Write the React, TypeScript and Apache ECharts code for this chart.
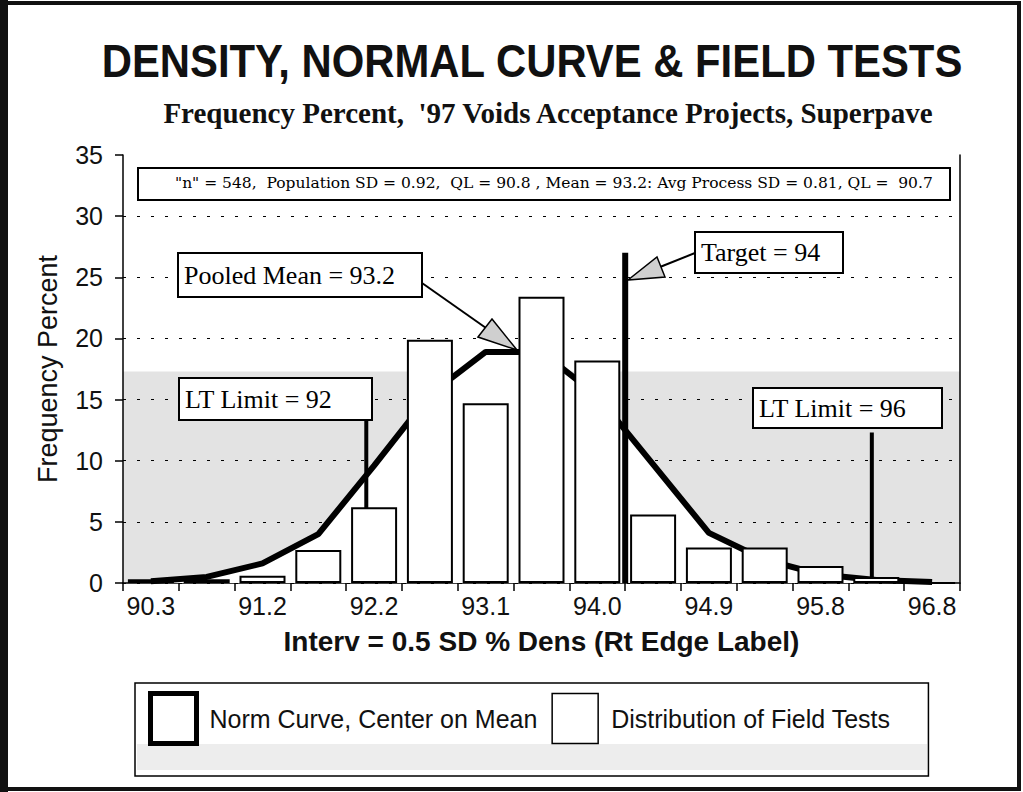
import React, { useEffect, useRef } from "react";
import * as echarts from "echarts";

// ---------- data ----------
const categories = ["90.3", "90.8", "91.2", "91.7", "92.2", "92.6", "93.1", "93.5", "94.0", "94.5", "94.9", "95.4", "95.8", "96.3", "96.8"];
const fieldTests = [0.3, 0.3, 0.6, 2.7, 6.2, 19.9, 14.7, 23.4, 18.2, 5.6, 2.9, 2.9, 1.4, 0.5, 0];
const normCurve = [0.15, 0.5, 1.6, 4.0, 9.6, 15.4, 18.9, 18.9, 15.3, 9.7, 4.1, 1.9, 0.7, 0.25, 0.08];
// reference lines: position along interval axis (0..15) and top value
const refNames = ["LT Limit = 92", "Target = 94", "LT Limit = 96"];
const refPos = [4.36, 9.0, 13.42];
const refTop = [13.3, 27.0, 12.3];
const yMin = 0;
const yMax = 35;
const yStep = 5;
const statsText = "\"n\" = 548,  Population SD = 0.92,  QL = 90.8 , Mean = 93.2: Avg Process SD = 0.81, QL =  90.7";

// ---------- styles ----------
const SANS = '"Liberation Sans", Arial, Helvetica, sans-serif';
const SERIF = '"Liberation Serif", "Times New Roman", serif';
const STAT_FONT = '"DejaVu Serif", serif';
const BAND_TOP = 17.3;

function annotBox(x: number, y: number, w: number, h: number, text: string) {
  return [
    { type: "rect", z: 20, shape: { x, y, width: w, height: h }, style: { fill: "#fff", stroke: "#000", lineWidth: 2 } },
    { type: "text", z: 21, x: x + 6, y: y + h / 2, style: { text, font: `26px ${SERIF}`, fill: "#000", align: "left", verticalAlign: "middle" } },
  ];
}

export default function App() {
  const ref = useRef<HTMLDivElement>(null);
  useEffect(() => {
    document.body.style.margin = "0";
    const chart = echarts.init(ref.current!, null, { renderer: "svg" });

    const refSeries = refPos.map((p, i) => ({
      name: refNames[i],
      type: "line",
      xAxisIndex: 1,
      yAxisIndex: 0,
      data: [[p, 0], [p, refTop[i]]],
      symbol: "none",
      silent: true,
      lineStyle: { color: "#000", width: i === 1 ? 6 : 4 },
      z: i === 1 ? 4 : 2.5,
    }));

    const option: any = {
      animation: false,
      backgroundColor: "#fff",
      grid: { left: 123, right: 63, top: 155, bottom: 209 },
      xAxis: [
        {
          type: "category",
          data: categories,
          boundaryGap: true,
          axisLine: { lineStyle: { color: "#000", width: 1.5 } },
          axisTick: { show: true, interval: 0, length: 8, lineStyle: { color: "#000", width: 1.5 } },
          axisLabel: { interval: 1, color: "#111", fontFamily: SANS, fontSize: 25, margin: 10 },
          name: "Interv = 0.5 SD % Dens (Rt Edge Label)",
          nameLocation: "middle",
          nameGap: 44,
          nameTextStyle: { fontFamily: SANS, fontSize: 28, fontWeight: "bold", color: "#111" },
          splitLine: { show: false },
        },
        { type: "value", min: 0, max: 15, show: false },
      ],
      yAxis: [
        {
          type: "value",
          min: yMin,
          max: yMax,
          interval: yStep,
          axisLine: { show: true, lineStyle: { color: "#000", width: 1.5 } },
          axisTick: { show: true, length: 8, lineStyle: { color: "#000", width: 1.5 } },
          axisLabel: { color: "#111", fontFamily: SANS, fontSize: 25, margin: 20 },
          name: "Frequency Percent",
          nameLocation: "middle",
          nameGap: 62,
          nameTextStyle: { fontFamily: SANS, fontSize: 27, color: "#111" },
          splitLine: { show: true, showMaxLine: false, lineStyle: { color: "#000", width: 1.2, type: [3, 11] } },
        },
        {
          type: "value",
          min: yMin,
          max: yMax,
          position: "right",
          axisLine: { show: true, lineStyle: { color: "#000", width: 1.5 } },
          axisTick: { show: false },
          axisLabel: { show: false },
          splitLine: { show: false },
        },
      ],
      legend: {
        left: 135,
        top: 683,
        orient: "horizontal",
        padding: [8, 38, 30, 13],
        itemWidth: 46,
        itemHeight: 50,
        itemGap: 14,
        borderColor: "#000",
        borderWidth: 1.5,
        backgroundColor: "transparent",
        selectedMode: false,
        textStyle: { fontFamily: SANS, fontSize: 25, color: "#111", padding: [0, 0, 0, 8] },
        data: [
          { name: "Norm Curve, Center on Mean", icon: "rect", itemStyle: { color: "#fff", borderColor: "#000", borderWidth: 5 } },
          { name: "Distribution of Field Tests", icon: "rect", itemStyle: { color: "#fff", borderColor: "#000", borderWidth: 1.5 } },
        ],
      },
      series: [
        {
          name: "band",
          type: "line",
          xAxisIndex: 1,
          yAxisIndex: 0,
          data: [[0, BAND_TOP], [15, BAND_TOP]],
          symbol: "none",
          silent: true,
          lineStyle: { width: 0, opacity: 0 },
          areaStyle: { color: "#e3e3e3", opacity: 1 },
          z: -1,
        },
        {
          name: "Norm Curve, Center on Mean",
          type: "line",
          data: normCurve,
          symbol: "none",
          lineStyle: { color: "#000", width: 6 },
          itemStyle: { color: "#000" },
          areaStyle: { color: "#fff", opacity: 1 },
          z: 2,
        },
        refSeries[0],
        refSeries[2],
        {
          name: "Distribution of Field Tests",
          type: "bar",
          data: fieldTests,
          barWidth: 46,
          itemStyle: { color: "#fff", borderColor: "#000", borderWidth: 2 },
          z: 3,
        },
        refSeries[1],
      ],
      graphic: [
        // outer frame
        { type: "rect", z: -10, shape: { x: 4, y: 3, width: 1015, height: 786 }, style: { fill: "none", stroke: "#111", lineWidth: 4 } },
        { type: "line", z: -10, shape: { x1: 4, y1: 0, x2: 4, y2: 792 }, style: { stroke: "#111", lineWidth: 8 } },
        // legend lower gray stipple
        { type: "rect", z: -5, shape: { x: 137, y: 744, width: 790, height: 26 }, style: { fill: "#ededed" } },
        // titles
        {
          type: "text", z: 30, x: 532, y: 61, scaleX: 0.89,
          style: { text: "DENSITY, NORMAL CURVE & FIELD TESTS", font: `bold 47px ${SANS}`, fill: "#111", align: "center", verticalAlign: "middle" },
        },
        {
          type: "text", z: 30, x: 548, y: 113,
          style: { text: "Frequency Percent,  '97 Voids Acceptance Projects, Superpave", font: `bold 29px ${SERIF}`, fill: "#111", align: "center", verticalAlign: "middle" },
        },
        // stats box
        { type: "rect", z: 20, shape: { x: 138, y: 168, width: 812, height: 32 }, style: { fill: "#fff", stroke: "#000", lineWidth: 2 } },
        { type: "text", z: 21, x: 175, y: 183, style: { text: statsText, font: `15.5px ${STAT_FONT}`, fill: "#000", align: "left", verticalAlign: "middle" } },
        // annotation boxes
        ...annotBox(178, 253, 244, 44, "Pooled Mean = 93.2"),
        ...annotBox(179, 378, 193, 42, "LT Limit = 92"),
        ...annotBox(695, 232, 148, 41, "Target = 94"),
        ...annotBox(753, 388, 189, 40, "LT Limit = 96"),
        // arrows
        { type: "line", z: 19, shape: { x1: 422, y1: 283, x2: 486, y2: 328 }, style: { stroke: "#000", lineWidth: 2 } },
        { type: "polygon", z: 19, shape: { points: [[478, 337], [492, 319], [517, 350]] }, style: { fill: "#cfcfcf", stroke: "#000", lineWidth: 1.5 } },
        { type: "line", z: 19, shape: { x1: 695, y1: 253, x2: 660, y2: 267 }, style: { stroke: "#000", lineWidth: 2 } },
        { type: "polygon", z: 19, shape: { points: [[657, 257], [665, 277], [628, 280]] }, style: { fill: "#cfcfcf", stroke: "#000", lineWidth: 1.5 } },
      ],
    };
    chart.setOption(option);
    return () => chart.dispose();
  }, []);
  return <div ref={ref} style={{ width: 1023, height: 792, background: "#fff" }} />;
}
